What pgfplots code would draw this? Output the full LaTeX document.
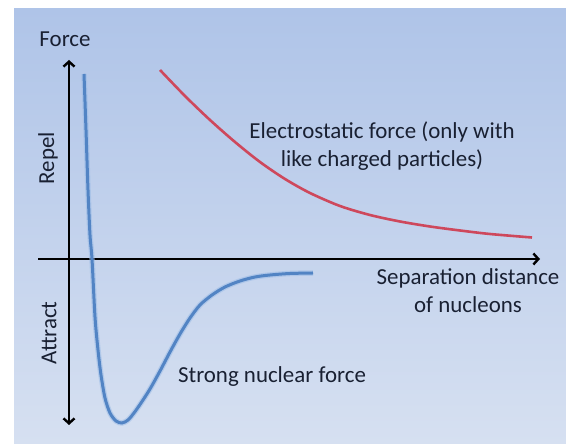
\documentclass[border=0pt]{standalone}
\usepackage{pgfplots}
\pgfplotsset{compat=1.18}
\usetikzlibrary{arrows.meta}
\usepackage{fontspec}
\setmainfont{Carlito}
\definecolor{bgtop}{RGB}{175,196,232}
\definecolor{bgbot}{RGB}{214,224,241}
\definecolor{txt}{RGB}{25,32,50}
\definecolor{bluec}{RGB}{82,132,196}
\definecolor{blueglow}{RGB}{150,185,230}
\definecolor{redc}{RGB}{206,72,92}
\pgfplotstableread{
x y
15 185
17 129
19 69
21 24
23 0
26 -58
29 -91
32 -116
36 -139
41 -154
47 -162
53 -164
59 -161
65 -154
72 -144
81 -130
91 -112
101 -93
111 -75
121 -59
131 -46
143 -36
156 -28
171 -22
186 -18
201 -16
221 -14.5
244 -14
}\strongtable
\pgfplotstableread{
x y
91 189
116 163
141 139
166 117
191 97
216 80
241 66
271 53
301 44
331 37.5
361 32.5
391 28.5
421 25
463 21.5
}\electable
\begin{document}
\begin{tikzpicture}
\begin{axis}[
  set layers,
  x=1bp, y=1bp,
  xmin=-31, xmax=471, ymin=-166, ymax=199,
  enlargelimits=false,
  clip=false,
  axis x line=middle, axis y line=middle,
  xtick=\empty, ytick=\empty,
  x axis line style={line width=2.6bp, black, -{Straight Barb[length=5bp,width=11bp,line width=2.4bp]}},
  y axis line style={line width=2.6bp, black, {Straight Barb[length=5bp,width=11bp,line width=2.4bp]}-{Straight Barb[length=5bp,width=11bp,line width=2.4bp]}},
  font=\fontsize{23}{28}\selectfont,
]
\begin{pgfonlayer}{axis background}
\fill[white] (axis cs:-69,-185) rectangle (axis cs:497,259);
\shade[top color=bgtop, bottom color=bgbot] (axis cs:-55,-185) rectangle (axis cs:497,250);
\end{pgfonlayer}

% strong nuclear force
\addplot[blueglow, line width=5.5bp, opacity=0.5, smooth] table {\strongtable};
\addplot[bluec, line width=3bp, smooth] table {\strongtable};

% electrostatic force
\addplot[redc, line width=2.6bp, smooth] table {\electable};

\node[txt] at (axis cs:-4,220) {Force};
\node[txt, rotate=90] at (axis cs:-21,101) {Repel};
\node[txt, rotate=90] at (axis cs:-20,-74) {Attract};
\node[txt, align=center] at (axis cs:313,113) {Electrostatic force (only with\\like charged particles)};
\node[txt, align=center] at (axis cs:399,-32) {Separation distance\\of nucleons};
\node[txt] at (axis cs:203,-118) {Strong nuclear force};
\end{axis}
\end{tikzpicture}
\end{document}
